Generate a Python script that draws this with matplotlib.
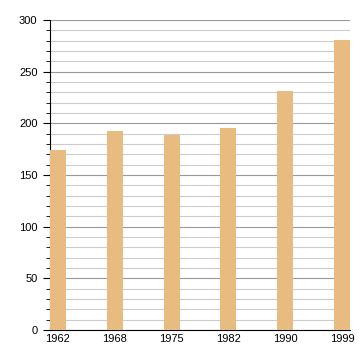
import matplotlib
matplotlib.use("Agg")
import matplotlib.pyplot as plt
from matplotlib.ticker import MultipleLocator

years = ["1962", "1968", "1975", "1982", "1990", "1999"]
values = [174, 193, 189, 196, 231, 281]

plt.rcParams['font.family'] = ['Liberation Sans', 'DejaVu Sans']
fig = plt.figure(figsize=(3.6, 3.6), dpi=100)
ax = fig.add_axes([0.139, 0.083, 0.833, 0.861])

x = list(range(len(years)))
ax.bar(x, values, width=0.28, color="#E8BC80", zorder=3)
ax.set_xlim(-0.14, len(years) - 1 + 0.14)
ax.set_ylim(0, 300)
ax.set_xticks(x)
ax.set_xticklabels(years)
ax.yaxis.set_major_locator(MultipleLocator(50))
ax.yaxis.set_minor_locator(MultipleLocator(10))
ax.grid(axis="y", which="minor", color="#cccccc", linewidth=0.8, zorder=0)
ax.grid(axis="y", which="major", color="#999999", linewidth=0.8, zorder=0)
ax.set_axisbelow(True)
for s in ["top", "right"]:
    ax.spines[s].set_visible(False)
ax.spines["left"].set_color("black")
ax.spines["bottom"].set_color("black")
ax.tick_params(axis="x", length=0, labelsize=8, pad=3)
ax.tick_params(axis="y", which="major", length=5, labelsize=8, pad=4)
ax.tick_params(axis="y", which="minor", length=3)

fig.savefig("out.png", dpi=100)
